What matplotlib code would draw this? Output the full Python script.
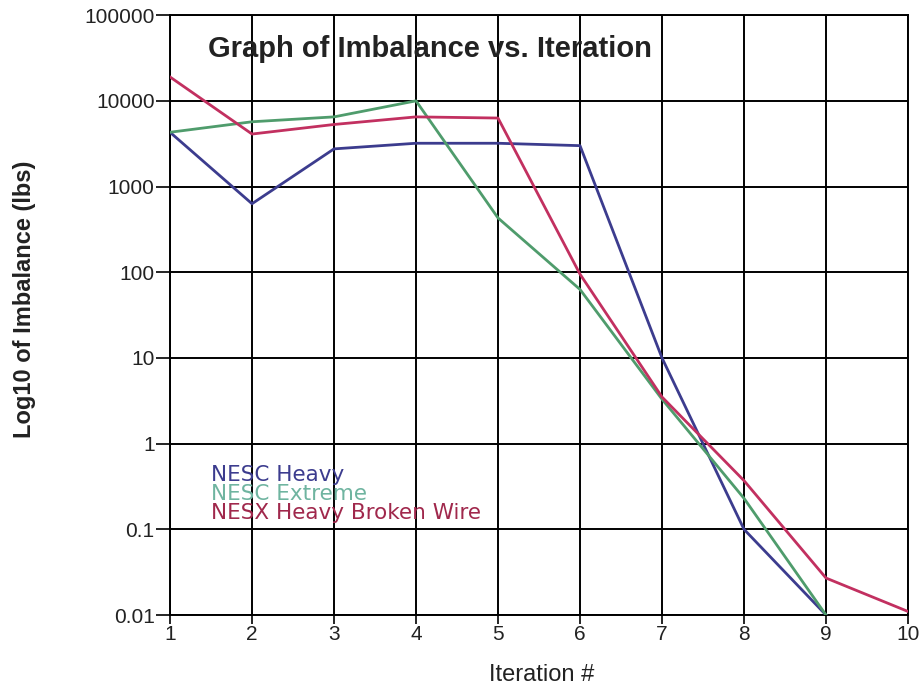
import matplotlib
matplotlib.use("Agg")
import matplotlib.pyplot as plt
from matplotlib.ticker import FixedLocator, FixedFormatter, NullLocator

iterations = [1, 2, 3, 4, 5, 6, 7, 8, 9, 10]
nesc_heavy = [4300, 630, 2750, 3200, 3200, 3000, 10, 0.1, 0.01]
nesc_extreme = [4300, 5700, 6500, 10000, 430, 63, 3.3, 0.23, 0.01]
nesx_broken = [19000, 4100, 5300, 6500, 6300, 95, 3.5, 0.37, 0.027, 0.011]

series_names = ["NESC Heavy", "NESC Extreme", "NESX Heavy Broken Wire"]
y_ticks = [0.01, 0.1, 1, 10, 100, 1000, 10000, 100000]
y_tick_labels = ["0.01", "0.1", "1", "10", "100", "1000", "10000", "100000"]

colors = ["#3c3c8e", "#4f9c6c", "#c23060"]
text_colors = ["#3c3c8e", "#6fb4a0", "#a0284c"]

plt.rcParams["font.family"] = ["Liberation Sans", "DejaVu Sans"]

fig = plt.figure(figsize=(9.22, 6.89), dpi=100)
ax = fig.add_axes([0.1844, 0.1074, 0.8004, 0.8706])

series = [nesc_heavy, nesc_extreme, nesx_broken]
handles = []
for vals, name, c in zip(series, series_names, colors):
    h, = ax.plot(iterations[:len(vals)], vals, color=c, lw=2.0, label=name,
                 zorder=3)
    handles.append(h)

ax.set_yscale("log")
ax.set_xlim(1, 10)
ax.set_ylim(0.01, 100000)

ax.yaxis.set_major_locator(FixedLocator(y_ticks))
ax.yaxis.set_major_formatter(FixedFormatter(y_tick_labels))
ax.yaxis.set_minor_locator(NullLocator())
ax.set_xticks(iterations)
ax.set_xticklabels([str(i) for i in iterations])

ax.grid(True, color="black", lw=1.4, zorder=1)
for s in ax.spines.values():
    s.set_color("black")
    s.set_linewidth(1.4)

ax.tick_params(axis="y", direction="out", length=10, width=1.2, pad=1,
               labelsize=15, labelcolor="#222222")
ax.tick_params(axis="x", direction="out", length=6.5, width=1.2, pad=0.5,
               labelsize=15, labelcolor="#222222")

ax.text(0.0515, 0.944, "Graph of Imbalance vs. Iteration", transform=ax.transAxes,
        fontsize=21, fontweight="bold", color="#222222", va="center", ha="left",
        zorder=4)

leg = ax.legend(handles=handles, loc="upper left", bbox_to_anchor=(0.0445, 0.264),
                frameon=False, handlelength=0, handletextpad=0,
                labelspacing=-0.05, borderaxespad=0,
                prop={"family": "DejaVu Sans", "size": 15.5})
for h in leg.legend_handles:
    h.set_visible(False)
for t, c in zip(leg.get_texts(), text_colors):
    t.set_color(c)

fig.text(0.027, 0.565, "Log10 of Imbalance (lbs)", rotation=90, fontsize=17,
         fontweight="bold", color="#222222", ha="center", va="center")
fig.text(0.587, 0.020, "Iteration #", fontsize=17, color="#222222",
         ha="center", va="center")

fig.savefig("out.png", dpi=100, facecolor="white")
